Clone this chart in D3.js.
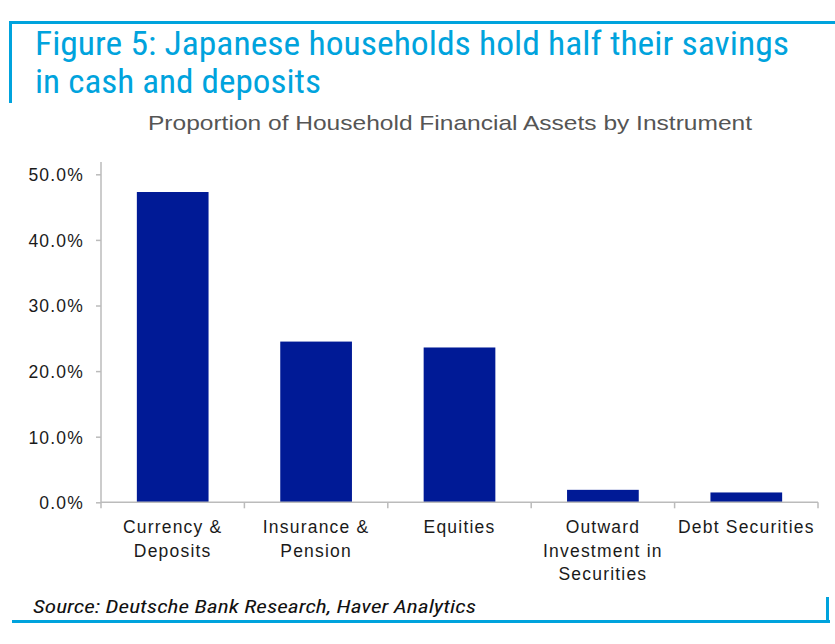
<!DOCTYPE html>
<html>
<head>
<meta charset="utf-8">
<script src="https://cdn.jsdelivr.net/npm/d3@7"></script>
<style>
  html, body { margin: 0; padding: 0; background: #fff; }
  svg { display: block; }
</style>
</head>
<body>
<svg id="chart" width="835" height="644"></svg>
<script>
const categories = [
  ["Currency &", "Deposits"],
  ["Insurance &", "Pension"],
  ["Equities"],
  ["Outward", "Investment in", "Securities"],
  ["Debt Securities"]
];
const values = [47.3, 24.5, 23.6, 1.9, 1.5];
const yTicks = [0, 10, 20, 30, 40, 50];
const titleLines = ["Figure 5: Japanese households hold half their savings", "in cash and deposits"];
const subtitle = "Proportion of Household Financial Assets by Instrument";
const source = "Source: Deutsche Bank Research, Haver Analytics";

const svg = d3.select("#chart");
const accent = "#00a3dd";
const barColor = "#001a96";
const narrow = "'Liberation Sans Narrow', 'Arial Narrow', 'Roboto Condensed', sans-serif";
const sans = "'Liberation Sans', Arial, sans-serif";

// frame lines
svg.append("rect").attr("x", 9).attr("y", 21).attr("width", 826).attr("height", 3).attr("fill", accent);
svg.append("rect").attr("x", 9).attr("y", 21).attr("width", 3).attr("height", 82).attr("fill", accent);
svg.append("rect").attr("x", 12).attr("y", 620).attr("width", 818).attr("height", 3).attr("fill", accent);
svg.append("rect").attr("x", 826).attr("y", 597).attr("width", 3).attr("height", 26).attr("fill", accent);

// title
const titleWidths = [754, 286];
svg.append("g").selectAll("text").data(titleLines).join("text")
  .attr("x", 35).attr("y", (d, i) => 55 + i * 38)
  .attr("font-family", narrow).attr("font-size", 33).attr("fill", accent)
  .attr("textLength", (d, i) => titleWidths[i]).attr("lengthAdjust", "spacingAndGlyphs")
  .text(d => d);

svg.append("text").attr("x", 148).attr("y", 130)
  .attr("font-family", sans).attr("font-size", 21).attr("fill", "#555")
  .attr("textLength", 604).attr("lengthAdjust", "spacingAndGlyphs")
  .text(subtitle);

svg.append("text").attr("x", 33).attr("y", 613)
  .attr("font-family", narrow).attr("font-style", "italic").attr("font-size", 19).attr("fill", "#111")
  .attr("textLength", 443).attr("lengthAdjust", "spacingAndGlyphs")
  .text(source);

// scales
const x = d3.scaleBand().domain(d3.range(categories.length)).range([101, 818]).paddingInner(0.5).paddingOuter(0.25);
const y = d3.scaleLinear().domain([0, 50]).range([502.3, 174.3]);

// bars
svg.append("g").selectAll("rect").data(values).join("rect")
  .attr("x", (d, i) => x(i)).attr("width", x.bandwidth())
  .attr("y", d => y(d)).attr("height", d => y(0) - y(d))
  .attr("fill", barColor);

// y axis
const yAxis = d3.axisLeft(y).tickValues(yTicks).tickSize(5).tickFormat(d => d3.format(".1f")(d) + "%");
const gy = svg.append("g").attr("transform", "translate(101,0)").call(yAxis);
gy.select(".domain").remove();
gy.append("line").attr("x1", 0).attr("x2", 0).attr("y1", 162).attr("y2", y(0)).attr("stroke", "#bbb").attr("stroke-width", 1.5);
gy.selectAll(".tick line").attr("stroke", "#bbb").attr("stroke-width", 1.5);
gy.selectAll(".tick text").attr("x", -17).attr("dy", "0.36em")
  .attr("font-family", sans).attr("font-size", 17.5).attr("letter-spacing", 1.2).attr("fill", "#1a1a1a");

// x axis line + separators
const gx = svg.append("g");
gx.append("line").attr("x1", 101).attr("x2", 818).attr("y1", y(0)).attr("y2", y(0)).attr("stroke", "#bbb").attr("stroke-width", 1.5);
gx.selectAll("line.sep").data(d3.range(categories.length + 1)).join("line").attr("class", "sep")
  .attr("x1", i => 101 + i * (717 / categories.length)).attr("x2", i => 101 + i * (717 / categories.length))
  .attr("y1", y(0)).attr("y2", y(0) + 6).attr("stroke", "#bbb").attr("stroke-width", 1.5);

// category labels
const lbl = gx.selectAll("text.cat").data(categories).join("text").attr("class", "cat")
  .attr("text-anchor", "middle")
  .attr("font-family", sans).attr("font-size", 17.5).attr("letter-spacing", 1.2).attr("fill", "#1a1a1a");
lbl.each(function(d, i) {
  const t = d3.select(this);
  d.forEach((line, j) => {
    t.append("tspan").attr("x", x(i) + x.bandwidth() / 2).attr("y", 533 + j * 23.5).text(line);
  });
});
</script>
</body>
</html>
